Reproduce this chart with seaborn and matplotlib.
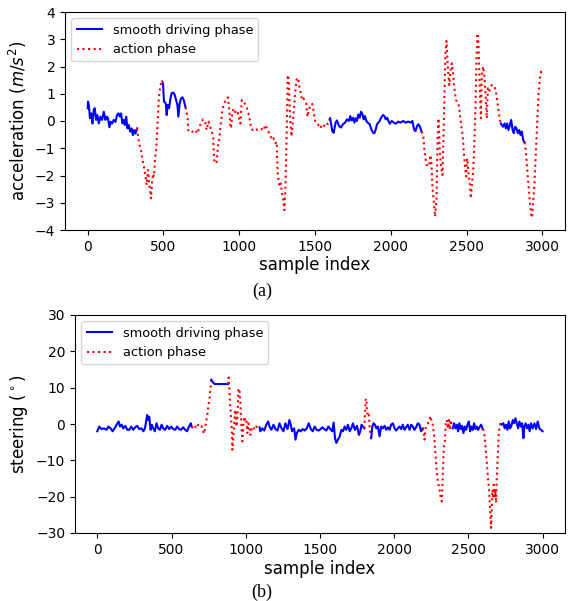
import numpy as np
import pandas as pd
import matplotlib
matplotlib.use("Agg")
import matplotlib.pyplot as plt
import seaborn as sns
from matplotlib.lines import Line2D

# ---------------- data ----------------
acc_idx = [0, 2, 7, 15, 24, 31, 40, 46, 55, 64, 73, 84, 95, 106, 117, 126, 134, 143, 152, 161, 172, 183, 194, 203, 212, 220, 229, 238, 245, 254, 262, 271, 280, 289, 298, 306, 315, 326,
           333, 342, 351, 360, 371, 382, 389, 398, 404, 411, 418, 424, 431, 437, 444, 453, 461, 470, 479, 488, 497,
           503, 515, 521, 528, 537, 546, 554, 565, 574, 583, 592, 598, 607, 616, 625, 634, 645,
           651, 660, 664, 691, 713, 722, 735, 746, 761, 775, 784, 797, 808, 819, 828, 834, 841, 850, 859, 867, 876, 889, 900, 911, 925, 933, 942, 946, 955, 966, 977, 989, 999, 1008, 1017, 1026, 1035, 1048, 1061, 1070, 1079, 1088, 1106, 1121, 1143, 1161, 1172, 1188, 1203, 1217, 1225, 1239, 1247, 1252, 1256, 1265, 1274, 1283, 1291, 1298, 1305, 1314, 1320, 1327, 1336, 1345, 1353, 1362, 1371, 1380, 1389, 1397, 1406, 1415, 1424, 1433, 1442, 1450, 1459, 1470, 1481, 1490, 1499, 1508, 1521, 1534, 1548, 1561, 1574, 1585, 1596, 1600,
           1614, 1623, 1636, 1645, 1658, 1671, 1684, 1698, 1711, 1724, 1733, 1742, 1751, 1760, 1768, 1777, 1786, 1795, 1804, 1812, 1821, 1830, 1839, 1848, 1861, 1872, 1883, 1892, 1901, 1909, 1918, 1927, 1936, 1949, 1958, 1967, 1976, 1985, 1993, 2007, 2020, 2033, 2049, 2064, 2082, 2099, 2115, 2130, 2143, 2154, 2163, 2174, 2183, 2192, 2203,
           2214, 2223, 2232, 2240, 2254, 2262, 2269, 2276, 2284, 2293, 2302, 2309, 2315, 2324, 2333, 2342, 2348, 2355, 2361, 2368, 2377, 2386, 2394, 2403, 2412, 2421, 2430, 2438, 2447, 2456, 2465, 2474, 2482, 2491, 2498, 2504, 2513, 2522, 2529, 2535, 2544, 2553, 2559, 2566, 2573, 2579, 2588, 2595, 2601, 2610, 2619, 2628, 2634, 2641, 2650, 2658, 2667, 2676, 2685, 2694, 2702, 2711, 2720, 2727,
           2733, 2742, 2751, 2760, 2768, 2777, 2786, 2795, 2804, 2812, 2821, 2830, 2839, 2848, 2856, 2865, 2874, 2883,
           2892, 2900, 2909, 2918, 2927, 2933, 2940, 2949, 2958, 2966, 2975, 2984, 2993, 2997]
acc_val = [.47, .71, .59, .1, .28, -.09, .41, .47, .04, .22, -.09, .16, .04, .34, .04, .16, .1, -.23, -.03, -.09, .04, -.03, .22, .28, .16, .28, -.09, .04, -.15, .16, -.27, -.15, -.39, -.27, -.52, -.33, -.46, -.27,
           -.58, -.88, -1.07, -1.37, -1.68, -2.04, -2.35, -1.8, -2.17, -2.53, -2.84, -2.29, -1.93, -2.04, -1.43, -.94, -.09, .89, 1.26, 1.5, 1.38,
           .71, .65, .22, .59, .47, .83, 1.02, 1.04, .96, .77, .59, .16, .65, .83, .87, .77, .5,
           .41, .04, -.39, -.39, -.33, -.46, -.27, -.09, .06, -.02, -.33, -.02, -.2, -.39, -.57, -1.43, -1.49, -1.56, -.94, -.69, -.2, .4, .65, .77, .87, .53, -.2, -.27, .34, .46, .28, .34, .1, -.09, .77, .71, .65, .53, .28, .04, -.27, -.33, -.27, -.33, -.27, -.35, -.14, -.33, -.51, -.69, -.63, -.82, -.76, -1.68, -2.04, -2.41, -2.29, -2.66, -2.9, -3.27, -2.41, -.2, 1.69, 1.5, .04, -.57, -.09, .53, 1.14, 1.57, 1.57, 1.26, 1.02, .77, .83, .71, .65, .16, .4, .59, .63, .4, .04, -.09, -.14, -.27, -.12, -.18, -.06, -.12, .06, .1,
           -.37, -.43, -.06, .02, -.18, -.24, -.12, -.06, .06, 0, .18, .02, .12, -.06, .1, 0, .24, .12, .34, .27, .06, .18, 0, -.06, -.12, -.31, -.43, -.45, -.31, -.12, -.06, 0, .12, .22, .18, .06, .12, 0, -.1, 0, -.06, -.1, -.02, -.06, 0, -.06, -.02, -.06, 0, -.31, -.37, -.18, -.12, -.2, -.39,
           -.51, -1.12, -1.49, -1.67, -1.61, -1.25, -1.61, -2.47, -2.96, -3.51, -2.84, -.64, .1, -1.12, -1.74, -1.98, -.51, 1.08, 2.54, 2.94, 1.93, 1.32, 1.81, 2.12, 1.69, 1.14, .77, .71, .65, .28, -.15, -.51, -1.12, -1.74, -2.04, -1.37, -1.86, -2.35, -2.84, -2.35, -1.86, -.64, .46, 2.3, 3.22, 2.79, 1.08, .1, 1.69, 2.0, 1.57, .71, .1, 1.2, 1.08, 1.2, 1.32, 1.32, 1.26, 1.08, .77, .4, .04, -.09,
           -.15, -.21, -.09, -.27, -.09, -.33, -.15, .04, -.33, -.45, -.21, -.27, -.45, -.33, -.51, -.39, -.7, -.78,
           -1.12, -1.74, -2.35, -2.96, -3.45, -3.55, -2.96, -2.22, -1.12, -.15, .95, 1.57, 1.81, 1.69]
acc_smooth_ranges = [(0, 326), (497, 645), (1600, 2203), (2727, 2883)]

steer_idx = [0, 13, 29, 45, 63, 74, 90, 103, 117, 130, 144, 153, 164, 175, 189, 202, 215, 229, 242, 256, 269, 283, 298, 310, 321, 336, 343, 350, 359, 368, 377, 388, 399, 410, 422, 433, 444, 457, 471, 484, 498, 511, 525, 538, 551, 565, 578, 592, 605, 618, 630, 636,
             645, 656, 668, 679, 690, 701, 712, 719, 728, 739, 748, 757, 764, 768,
             780, 791, 813, 836, 858, 881,
             885, 890, 894, 899, 906, 910, 917, 924, 930, 937, 944, 951, 957, 964, 971, 977, 984, 991, 997, 1004, 1011, 1017, 1024, 1031, 1040, 1049, 1060, 1071, 1082, 1093,
             1098, 1111, 1125, 1138, 1151, 1160, 1173, 1187, 1200, 1214, 1227, 1241, 1254, 1267, 1281, 1294, 1303, 1312, 1326, 1335, 1344, 1357, 1370, 1384, 1397, 1411, 1424, 1438, 1451, 1464, 1478, 1491, 1498, 1516, 1529, 1543, 1556, 1570, 1583, 1592, 1601, 1610, 1621, 1633, 1644, 1655, 1666, 1677, 1688, 1700, 1711, 1722, 1735, 1749, 1762, 1771, 1780, 1789, 1798,
             1803, 1807, 1812, 1816, 1823, 1830, 1834, 1839, 1845,
             1852, 1861, 1870, 1879, 1890, 1901, 1912, 1924, 1935, 1946, 1957, 1968, 1979, 1991, 2002, 2013, 2024, 2035, 2047, 2058, 2069, 2080, 2091, 2103, 2114, 2125, 2136, 2147, 2159, 2170, 2181, 2192,
             2199, 2204, 2210, 2219, 2228, 2237, 2244, 2251, 2260, 2269, 2278, 2287, 2296, 2305, 2314, 2320, 2327, 2334, 2341, 2347, 2354, 2361, 2368, 2374, 2381, 2388, 2394,
             2403, 2412, 2421, 2430, 2439, 2448, 2457, 2466, 2475, 2484, 2493, 2502, 2511, 2520, 2529, 2538, 2547, 2556, 2565, 2574, 2585, 2596,
             2605, 2611, 2618, 2625, 2632, 2639, 2643, 2648, 2652, 2657, 2661, 2666, 2670, 2677, 2681, 2686, 2690, 2697, 2704, 2710, 2717, 2724,
             2735, 2744, 2753, 2762, 2771, 2780, 2789, 2798, 2807, 2816, 2825, 2834, 2843, 2852, 2861, 2870, 2876, 2885, 2894, 2903, 2912, 2921, 2932, 2944, 2955, 2966, 2977, 2988, 2999]
steer_val = [-2.0, -0.7, -1.4, -1.2, -1.6, -0.7, -1.2, -2.0, -1.2, -0.2, 0.7, -0.7, -0.2, -1.2, -0.5, -1.6, -1.6, -0.7, -1.6, -0.9, -0.5, -1.4, -1.2, -2.0, -1.2, 2.5, 1.1, 2.0, -1.6, -0.2, -1.2, -2.0, 0.2, -1.2, -1.6, -0.2, -1.2, -1.6, -0.5, -1.4, -0.7, -1.4, -1.6, -0.7, -1.4, -1.6, -0.9, -1.6, -2.0, -0.7, 0.2, -0.7,
             -1.2, -0.5, -1.2, -0.2, -0.7, -0.5, -2.0, -2.7, -0.7, 2.0, 4.8, 7.5, 10.3, 12.2,
             11.4, 11.0, 11.0, 11.0, 11.0, 11.0,
             12.8, 9.4, 5.7, 3.0, -1.6, -7.1, -3.4, 1.1, 3.9, -0.7, 2.0, 9.4, 9.8, 5.7, -0.7, -4.8, 0.2, 2.0, 0.7, 1.1, -2.5, 0.2, -0.7, -3.0, -1.2, -0.7, -1.6, -0.7, -1.2, -0.9,
             -2.0, -1.2, -1.8, -0.2, 0.7, -0.7, -1.6, -0.2, -1.4, -1.8, 0.2, -1.2, -2.0, 0.2, -1.4, 1.1, -0.2, -2.0, -1.2, -4.3, -2.5, -1.6, -2.0, -1.4, -1.8, -1.2, 0.2, -1.4, -2.0, -0.7, -1.6, -1.8, -1.6, -0.9, -1.4, -1.8, -0.7, -1.4, -2.0, 0.4, -3.9, -5.2, -4.3, -3.4, -1.6, -2.0, -0.7, -1.6, -0.2, -2.0, -1.2, 0.2, -1.6, -0.5, -3.0, -2.0, -0.2, -0.7, -1.2,
             2.9, 6.6, 7.0, 3.9, 2.0, 2.5, -1.2, -2.5, -3.9,
             -0.7, 0.2, -0.2, -1.2, -0.7, -3.4, -0.7, -1.2, -0.5, -1.6, -0.9, -1.6, -0.2, 0.2, -1.2, -1.8, -1.2, -0.7, -1.4, -0.2, -1.6, -0.9, -0.2, -1.6, -0.2, -0.7, -1.6, -0.9, 0.2, -0.2, -2.0, -1.2,
             -2.5, -4.3, -1.2, -0.7, 0.2, 1.1, 2.2, 0.7, -0.2, -3.4, -8.9, -13.5, -16.2, -18.1, -20.4, -21.3, -14.4, -6.1, -4.8, 0.2, 1.1, -1.2, 1.1, -1.6, 1.1, -0.7, -1.2,
             0.2, -1.2, -0.2, -2.0, 0.2, -1.4, -0.5, -2.5, -0.7, -1.6, -0.2, 0.7, -2.0, -0.7, -1.6, 0.2, -1.4, -0.7, -1.6, -0.9, -0.2, -1.4,
             -2.0, -4.3, -7.9, -11.6, -15.3, -18.1, -21.7, -25.4, -28.6, -23.5, -18.1, -19.9, -16.7, -19.9, -18.1, -21.7, -15.3, -8.9, -2.5, -0.7, 0.7, -0.2,
             0.2, -1.2, -0.2, -1.6, 0.7, -1.2, -0.5, 1.1, 0.2, 1.6, 0.2, -1.2, 0.7, -0.7, 0.2, -3.9, -0.7, 0.2, -1.2, -0.2, -2.0, 0.2, -1.2, 0.2, -1.4, 0.7, -1.2, -1.6, -2.0]
steer_smooth_ranges = [(0, 636), (768, 881), (1093, 1798), (1845, 2192), (2394, 2596), (2724, 3000)]

x_ticks = [0, 500, 1000, 1500, 2000, 2500, 3000]
acc_ticks = [-4, -3, -2, -1, 0, 1, 2, 3, 4]
steer_ticks = [-30, -20, -10, 0, 10, 20, 30]
legend_labels = ["smooth driving phase", "action phase"]


def split_segments(idx, val, smooth_ranges):
    """Split series into alternating smooth / action segments sharing boundary points."""
    df = pd.DataFrame({"idx": idx, "val": val})
    bounds = sorted(set([b for r in smooth_ranges for b in r] + [idx[0], idx[-1]]))
    segs = []
    for a, b in zip(bounds[:-1], bounds[1:]):
        part = df[(df.idx >= a) & (df.idx <= b)]
        is_smooth = any(a >= s and b <= e for s, e in smooth_ranges)
        segs.append((part, is_smooth))
    return segs


def draw(ax, idx, val, smooth_ranges):
    for part, smooth in split_segments(idx, val, smooth_ranges):
        if len(part) < 2:
            continue
        if smooth:
            sns.lineplot(data=part, x="idx", y="val", ax=ax, color="blue",
                         linewidth=1.5, linestyle="-", estimator=None, sort=False)
        else:
            sns.lineplot(data=part, x="idx", y="val", ax=ax, color="red",
                         linewidth=1.5, linestyle=":", estimator=None, sort=False)
    handles = [Line2D([], [], color="blue", lw=1.5, ls="-"),
               Line2D([], [], color="red", lw=1.5, ls=":")]
    ax.legend(handles, legend_labels, loc="upper left", fontsize=9.3)


fig = plt.figure(figsize=(5.71, 6.01), dpi=100)
ax1 = fig.add_axes([65 / 571, 1 - 230 / 601, 500 / 571, 218 / 601])
ax2 = fig.add_axes([75 / 571, 1 - 533 / 601, 490 / 571, 218 / 601])

draw(ax1, acc_idx, acc_val, acc_smooth_ranges)
ax1.set_xlim(-150, 3150)
ax1.set_ylim(-4, 4)
ax1.set_xticks(x_ticks)
ax1.set_yticks(acc_ticks)
ax1.set_xlabel("sample index", fontsize=12, labelpad=2)
ax1.set_ylabel("acceleration ($m/s^2$)", fontsize=12)

draw(ax2, steer_idx, steer_val, steer_smooth_ranges)
ax2.set_xlim(-150, 3150)
ax2.set_ylim(-30, 30)
ax2.set_xticks(x_ticks)
ax2.set_yticks(steer_ticks)
ax2.set_xlabel("sample index", fontsize=12, labelpad=2)
ax2.set_ylabel("steering ($^\\circ$)", fontsize=12)

for ax in (ax1, ax2):
    ax.tick_params(labelsize=10)

fig.text(262 / 571, 1 - 291 / 601, "(a)", ha="center", va="center",
         family="Liberation Serif", fontsize=13)
fig.text(262 / 571, 1 - 592 / 601, "(b)", ha="center", va="center",
         family="Liberation Serif", fontsize=13)

fig.savefig("out.png", dpi=100)
